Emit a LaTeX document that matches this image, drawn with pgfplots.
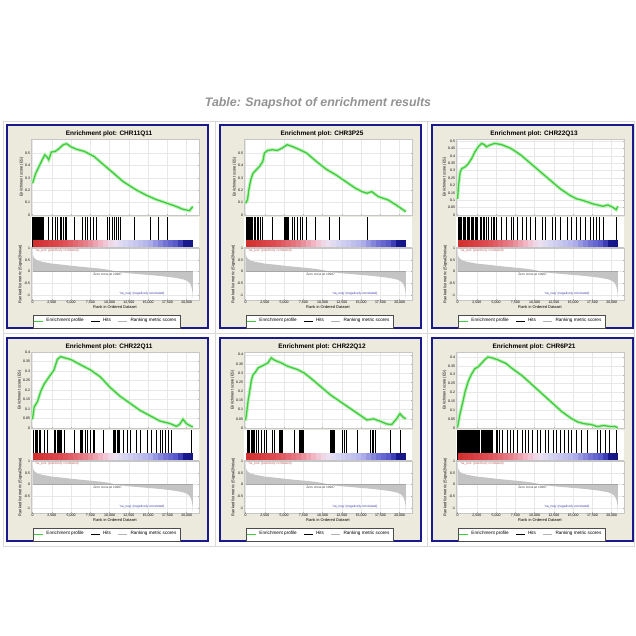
\documentclass[border=0pt]{standalone}
\usepackage{fontspec}
\setmainfont{Liberation Sans}
\usepackage{pgfplots}
\pgfplotsset{compat=1.18}
\usepackage{pgfplotstable}

\definecolor{navyframe}{RGB}{26,26,140}
\definecolor{panelbg}{RGB}{236,233,221}
\definecolor{esgreen}{RGB}{60,205,60}
\definecolor{esglow}{RGB}{190,240,185}
\definecolor{metricgray}{RGB}{196,196,196}
\definecolor{posred}{RGB}{205,95,95}
\definecolor{negblue}{RGB}{60,60,175}

\newcommand\fs[1]{\fontsize{#1}{#1}\selectfont}

\pgfplotsset{
  /pgf/number format/assume math mode=true,
  colormap={gsea}{rgb255(0cm)=(210,45,45); rgb255(8cm)=(222,78,84); rgb255(14cm)=(232,130,142);
    rgb255(18cm)=(242,188,202); rgb255(21cm)=(238,226,240); rgb255(24cm)=(215,214,242);
    rgb255(30cm)=(180,180,235); rgb255(34cm)=(120,120,215); rgb255(38cm)=(80,80,200);
    rgb255(39cm)=(25,25,145); rgb255(42cm)=(20,20,130)},
  gsea/.style={scale only axis, anchor=north west, width=4.2cm,
    xmin=-200, xmax=21600,
    axis background/.style={fill=white},
    axis line style={gray!45, line width=0.3pt},
    tick style={gray!60, line width=0.3pt},
    major tick length=1pt,
    tick label style={font=\fs{2.5}, inner sep=0.5pt},
    label style={font=\fs{2.8}, inner sep=0.5pt},
    grid style={gray!18, line width=0.3pt},
    scaled ticks=false,
    xtick={0,2500,5000,7500,10000,12500,15000,17500,20000},
  },
}

% ranking metric (same ranked list for all gene sets)
\pgfplotstableread{
x y
0 0
0 0.92
60 0.70
200 0.58
600 0.48
1200 0.42
2500 0.34
4000 0.29
5000 0.25
6500 0.20
7500 0.17
9000 0.12
10000 0.07
10900 0.0
11500 -0.03
12500 -0.07
14000 -0.11
15000 -0.14
16500 -0.18
17500 -0.22
18500 -0.26
19500 -0.32
20000 -0.38
20400 -0.48
20600 -0.62
20750 -0.85
20800 -1.15
20800 0
}\metric

% colour band under the hits, sampled along the ranks
\pgfplotstableread{
x y
0 0.117
650 0.117
1300 0.117
1950 0.117
2600 0.117
3250 0.117
3900 0.117
4550 0.117
5200 0.117
5850 0.117
6500 0.117
7150 0.117
7800 0.117
8450 0.117
9100 0.117
9750 0.117
10400 0.117
11050 0.117
11700 0.117
12350 0.117
13000 0.117
13650 0.117
14300 0.117
14950 0.117
15600 0.117
16250 0.117
16900 0.117
17550 0.117
18200 0.117
18850 0.117
19500 0.117
20150 0.117
20800 0.117
}\band

% enrichment profiles
\pgfplotstableread{
x y
0 0.257
210 0.297
420 0.338
840 0.392
1260 0.446
1596 0.486
1890 0.468
2100 0.446
2436 0.508
2940 0.514
3360 0.532
3990 0.568
4410 0.576
5040 0.549
5670 0.532
6720 0.514
7980 0.473
9240 0.405
10500 0.338
11760 0.270
13440 0.203
14700 0.162
15960 0.127
17220 0.100
18480 0.073
19530 0.046
20370 0.035
20790 0.068
}\esA
\pgfplotstableread{
x y
0 0.095
253 0.122
422 0.203
675 0.284
971 0.338
1393 0.365
1815 0.392
2237 0.432
2448 0.500
2870 0.522
3503 0.527
4136 0.522
4769 0.541
5402 0.568
6035 0.554
6879 0.532
7934 0.500
9200 0.432
10466 0.370
11732 0.324
12998 0.270
14264 0.216
15108 0.189
15741 0.176
16374 0.189
17218 0.149
18484 0.122
19539 0.081
20800 0.027
}\esB
\pgfplotstableread{
x y
0 0.109
128 0.200
341 0.291
554 0.314
980 0.325
1406 0.348
1832 0.382
2258 0.427
2684 0.461
3110 0.484
3451 0.477
3749 0.461
4175 0.473
4814 0.484
5666 0.477
6944 0.450
8222 0.405
9500 0.348
10778 0.291
12056 0.234
13334 0.177
14612 0.132
15464 0.109
16316 0.098
17594 0.075
18872 0.059
19511 0.068
20150 0.052
20576 0.036
20800 0.059
}\esC
\pgfplotstableread{
x y
0 0.046
215 0.111
644 0.139
1073 0.194
1502 0.231
2145 0.269
2789 0.306
3218 0.361
3647 0.376
4076 0.370
4935 0.361
6221 0.333
7508 0.306
8795 0.269
10082 0.213
11369 0.167
12656 0.130
13943 0.093
15230 0.065
16517 0.037
17804 0.024
18662 0.009
19091 0.019
19520 0.046
19949 0.024
20378 0.013
20800 0.006
}\esD
\pgfplotstableread{
x y
0 0.041
128 0.078
342 0.152
556 0.207
770 0.263
984 0.291
1198 0.300
1626 0.328
2054 0.337
2482 0.346
2910 0.356
3338 0.383
3766 0.370
4622 0.356
5478 0.337
6762 0.319
7618 0.300
8474 0.272
9758 0.226
11042 0.180
12326 0.143
13610 0.106
14894 0.069
15750 0.044
16606 0.050
17462 0.037
18318 0.022
18960 0.019
19602 0.050
20030 0.078
20458 0.059
20800 0.050
}\esE
\pgfplotstableread{
x y
0 0.004
170 0.044
339 0.084
678 0.144
975 0.204
1399 0.264
1823 0.304
2247 0.334
2671 0.344
3095 0.364
3519 0.384
3943 0.400
4579 0.394
5215 0.384
6275 0.364
7123 0.334
8395 0.294
9667 0.244
10939 0.194
12211 0.144
13483 0.094
14755 0.054
15603 0.034
16451 0.024
17299 0.020
18147 0.008
18995 0.014
19843 0.008
20479 0.008
20776 0.0
}\esF

% hit positions (ranks of the gene-set members)
\pgfplotstableread{
r
20
126
252
378
504
630
756
882
1008
1134
1260
1386
2100
2520
2940
3276
3570
3780
3990
4200
4410
5460
6510
6804
7140
7560
7896
8316
9660
9996
10290
10584
10920
11130
11340
13230
15330
16296
17430
}\hitA
\pgfplotstableread{
r
127
253
338
464
591
760
886
1097
1266
1519
1688
1941
2237
3503
4980
5106
5233
5359
5486
5613
6035
6330
6668
7090
7427
7849
9115
10888
12154
15741
}\hitB
\pgfplotstableread{
r
43
170
298
426
554
724
895
1065
1235
1406
1576
1747
1917
2087
2258
2428
2599
2897
3110
3323
3536
3749
3962
4388
4601
4814
5027
5666
6305
6944
7285
7796
8435
8861
9500
10139
10991
11417
12269
12695
13334
14186
14825
15464
15890
16529
17168
17594
18020
18446
18872
20576
}\hitC
\pgfplotstableread{
r
129
300
472
644
858
1073
1502
1931
2789
3003
3218
3346
3475
3647
3775
4161
5448
6135
6306
6478
6864
7079
7508
7851
8022
9224
10511
10639
10768
10940
11068
11197
11798
12312
12656
13514
14028
14886
15444
16088
16517
16860
17289
17589
18018
20592
}\hitD
\pgfplotstableread{
r
214
342
471
685
856
984
1113
1198
1412
1626
2054
2397
2696
3424
3766
4408
4537
4622
4836
6334
6976
7105
7276
7404
7533
10957
11128
11256
11385
11556
12540
12840
13054
14466
16178
16392
16606
16820
18746
20116
}\hitE
\pgfplotstableread{
r
20
127
254
382
509
636
763
890
1018
1145
1272
1399
1526
1654
1781
1908
2035
2162
2290
2417
2544
2671
2798
3095
3222
3350
3477
3604
3731
3858
3986
4113
4240
4367
4494
5003
5215
5427
5851
6487
6911
7208
7759
8395
8819
9243
9667
10303
10727
11363
11787
12423
12847
13271
13907
14331
14755
15391
16027
16875
18147
18571
19207
19631
20606
}\hitF
% every hit is drawn as a full-height tick
\pgfplotstablecreatecol[create col/set={1}]{h}\hitA
\pgfplotstablecreatecol[create col/set={1}]{h}\hitB
\pgfplotstablecreatecol[create col/set={1}]{h}\hitC
\pgfplotstablecreatecol[create col/set={1}]{h}\hitD
\pgfplotstablecreatecol[create col/set={1}]{h}\hitE
\pgfplotstablecreatecol[create col/set={1}]{h}\hitF

% #1,#2 top left of the blue frame (cm); #3 gene set; #4 ES table; #5 ES ymax; #6 ES ticks; #7 hits table
\newcommand\gseapanel[7]{%
  \pgfmathsetmacro\pax{#1+0.6}%
  \pgfmathsetmacro\pesy{#2-0.35}%
  \pgfmathsetmacro\phty{#2-2.3}%
  \pgfmathsetmacro\pmty{#2-3.075}%
  \draw[navyframe, line width=1.3pt, fill=panelbg] (#1cm,#2cm) rectangle ++(5.025cm,-5.075cm);
  \node[font=\fs{4.6}\bfseries] at ({#1cm+2.55cm},{#2cm-0.22cm}) {Enrichment plot: #3};
  \begin{axis}[gsea, at={(\pax cm,\pesy cm)}, height=1.9cm,
    ymin=0, ymax=#5, ytick={#6}, xticklabels={}, grid=major,
    yticklabel style={/pgf/number format/fixed, /pgf/number format/precision=2},
    ylabel={Enrichment score (ES)}]
    \addplot[esglow, line width=2.4pt] table[x=x, y=y] {#4};
    \addplot[esgreen, line width=0.9pt] table[x=x, y=y] {#4};
  \end{axis}
  \begin{axis}[gsea, at={(\pax cm,\phty cm)}, height=0.75cm,
    ymin=0, ymax=1, ticks=none, axis y line=none, axis x line*=bottom]
    \addplot[ycomb, black, line width=0.45pt] table[x=r, y=h] {#7};
    \addplot[mesh, colormap name=gsea, point meta=x, point meta min=0, point meta max=21000,
      line width=5pt, line cap=butt] table[x=x, y=y] {\band};
  \end{axis}
  \begin{axis}[gsea, at={(\pax cm,\pmty cm)}, height=1.3cm,
    ymin=-1.2, ymax=1, ytick={-1,-0.5,0,0.5,1}, grid=major,
    xticklabel style={/pgf/number format/1000 sep={,}},
    xlabel={Rank in Ordered Dataset}, ylabel={Ranked list metric (Signal2Noise)},
    legend columns=3,
    legend image code/.code={\draw[##1] (0cm,0cm) -- (0.22cm,0cm);},
    legend style={at={(axis description cs:0.45,-0.41)}, anchor=center, font=\fs{3.3},
      draw=black!70, fill=white, inner sep=0.6pt, line width=0.3pt,
      /tikz/every even column/.append style={column sep=3pt}}]
    \addplot[fill=metricgray, draw=none, forget plot] table[x=x, y=y] {\metric} -- cycle;
    \addplot[gray!70, line width=0.3pt, forget plot] coordinates {(0,0) (20800,0)};
    \node[font=\fs{2.3}, text=posred, anchor=west, inner sep=0pt] at (axis cs:300,0.89) {'na\_pos' (positively correlated)};
    \node[font=\fs{2.3}, text=black!75, inner sep=0pt] at (axis cs:9744,-0.1) {Zero cross at 10907};
    \node[font=\fs{2.3}, text=negblue, inner sep=0pt] at (axis cs:14196,-0.94) {'na\_neg' (negatively correlated)};
    \addlegendimage{esgreen, line width=0.6pt}\addlegendentry{Enrichment profile}
    \addlegendimage{black, line width=0.4pt}\addlegendentry{Hits}
    \addlegendimage{gray!60, line width=0.6pt}\addlegendentry{Ranking metric scores}
  \end{axis}
}

\begin{document}
\begin{tikzpicture}
\fill[white] (0,0) rectangle (15.9,-15.9);
\node[font=\fs{8.8}\bfseries\itshape, text=gray!85] at (7.95,-2.575) {Table: Snapshot of enrichment results};
% table cells
\draw[gray!30, line width=0.4pt] (0.075,-3.025) rectangle (15.85,-13.65);
\draw[gray!30, line width=0.4pt] (0.075,-8.325) -- (15.85,-8.325);
\draw[gray!30, line width=0.4pt] (5.375,-3.025) -- (5.375,-13.65);
\draw[gray!30, line width=0.4pt] (10.675,-3.025) -- (10.675,-13.65);

\gseapanel{0.175}{-3.125}{CHR11Q11}{\esA}{0.614}{0,0.1,0.2,0.3,0.4,0.5}{\hitA}
\gseapanel{5.5}{-3.125}{CHR3P25}{\esB}{0.614}{0,0.1,0.2,0.3,0.4,0.5}{\hitB}
\gseapanel{10.8}{-3.125}{CHR22Q13}{\esC}{0.514}{0,0.05,0.1,0.15,0.2,0.25,0.3,0.35,0.4,0.45,0.5}{\hitC}
\gseapanel{0.175}{-8.45}{CHR22Q11}{\esD}{0.40}{0,0.05,0.1,0.15,0.2,0.25,0.3,0.35,0.4}{\hitD}
\gseapanel{5.5}{-8.45}{CHR22Q12}{\esE}{0.415}{0,0.05,0.1,0.15,0.2,0.25,0.3,0.35,0.4}{\hitE}
\gseapanel{10.8}{-8.45}{CHR6P21}{\esF}{0.428}{0,0.05,0.1,0.15,0.2,0.25,0.3,0.35,0.4}{\hitF}
\end{tikzpicture}
\end{document}
